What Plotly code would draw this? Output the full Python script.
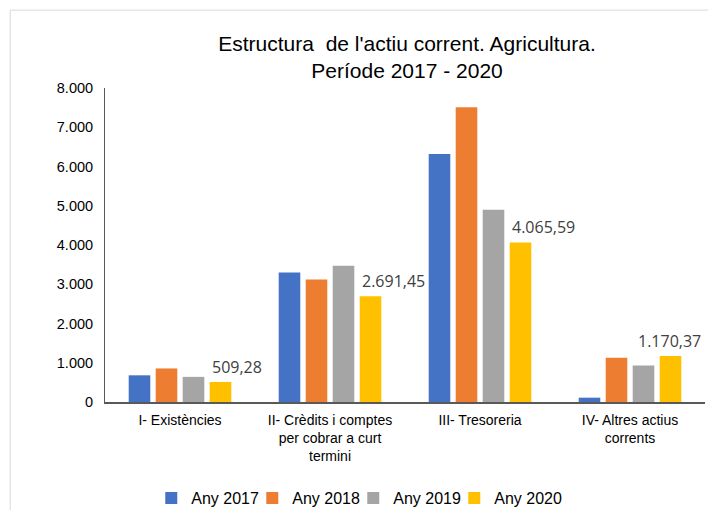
import plotly.graph_objects as go

categories = ["I- Existències", "II- Crèdits i comptes<br>per cobrar a curt<br>termini",
              "III- Tresoreria", "IV- Altres actius<br>corrents"]
series_names = ["Any 2017", "Any 2018", "Any 2019", "Any 2020"]
any_2017 = [680, 3300, 6320, 110]
any_2018 = [855, 3120, 7510, 1125]
any_2019 = [640, 3470, 4895, 930]
any_2020 = [509.28, 2691.45, 4065.59, 1170.37]
labels_2020 = ["509,28", "2.691,45", "4.065,59", "1.170,37"]
colors = ["#4472C4", "#ED7D31", "#A5A5A5", "#FFC000"]

fig = go.Figure()
for name, vals, col in zip(series_names, [any_2017, any_2018, any_2019, any_2020], colors):
    fig.add_trace(go.Bar(x=categories, y=vals, name=name, marker_color=col,
                         marker_line_width=0))
# empty legend slot so the last entry is not clipped
fig.add_trace(go.Scatter(x=[None], y=[None], mode="markers", name=" ",
                         marker=dict(color="rgba(0,0,0,0)", size=1), hoverinfo="skip"))

# data labels only on the 2020 series (last one pulled in so it stays inside the page)
for i, (cat, v, lab) in enumerate(zip(categories, any_2020, labels_2020)):
    shift = 30 if i < len(categories) - 1 else 6
    fig.add_annotation(x=cat, y=v, text=lab, showarrow=False, xanchor="left", yanchor="middle",
                       xshift=shift, yshift=15, font=dict(family="Open Sans", size=16, color="#404040"))

# chart frame (top and left edges are visible)
fig.add_shape(type="line", xref="paper", yref="paper", x0=-0.158, x1=1.2, y0=1.248, y1=1.248,
              line=dict(color="#D9D9D9", width=1))
fig.add_shape(type="line", xref="paper", yref="paper", x0=-0.158, x1=-0.158, y0=1.248, y1=-0.6,
              line=dict(color="#D9D9D9", width=1))

fig.update_layout(
    width=708, height=502,
    margin=dict(l=97, r=11, t=80, b=108, autoexpand=False),
    paper_bgcolor="white", plot_bgcolor="white",
    separators=",.",
    barmode="group", bargap=0.28, bargroupgap=0.2,
    title=dict(text="Estructura  de l'actiu corrent. Agricultura.<br>Període 2017 - 2020",
               x=0.5636, xref="container", xanchor="center", y=0.9143, yanchor="middle",
               font=dict(family="Liberation Sans", size=21, color="#000000")),
    font=dict(family="Liberation Sans", size=14, color="#000000"),
    showlegend=True,
    legend=dict(orientation="h", xref="container", x=0.559, xanchor="center",
                yref="container", y=0.0239, yanchor="middle",
                font=dict(family="Liberation Sans", size=16, color="#000000"),
                itemwidth=30, entrywidth=56, traceorder="normal"),
    xaxis=dict(range=[-0.5, 3.5], showline=True, linecolor="#595959", linewidth=1.5, ticks="",
               ticklabelstandoff=4, automargin=False,
               tickfont=dict(family="Liberation Sans", size=14, color="#000000")),
    yaxis=dict(range=[0, 8000], dtick=1000, tickformat=",d", showgrid=False, zeroline=False,
               showline=True, linecolor="#595959", linewidth=1, ticks="", ticklabelstandoff=8,
               automargin=False,
               tickfont=dict(family="Liberation Sans", size=14.5, color="#000000")),
)

fig.write_html("out.html")
